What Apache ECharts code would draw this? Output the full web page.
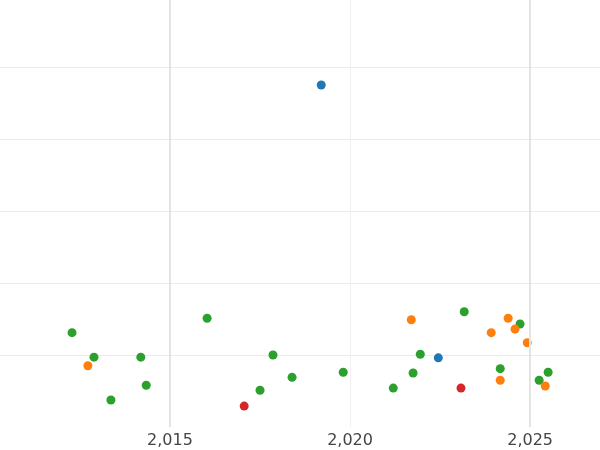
<!DOCTYPE html>
<html><head><meta charset="utf-8">
<script src="https://cdn.jsdelivr.net/npm/echarts@6/dist/echarts.min.js"></script>
<style>html,body{margin:0;padding:0;background:#fff}#c{width:600px;height:450px}</style>
</head><body><div id="c"></div>
<script>
const xTicks = [2015, 2020, 2025];
const green = [[2012.28,1.31],[2012.89,0.97],[2013.36,0.375],[2014.19,0.97],[2014.34,0.58],[2016.03,1.51],[2017.86,1.0],[2017.5,0.51],[2018.39,0.69],[2019.81,0.76],[2021.2,0.54],[2021.75,0.75],[2021.95,1.01],[2023.17,1.6],[2024.17,0.81],[2024.72,1.43],[2025.25,0.65],[2025.5,0.76]];
const orange = [[2012.72,0.85],[2021.7,1.49],[2023.92,1.31],[2024.39,1.51],[2024.58,1.36],[2024.92,1.17],[2024.17,0.65],[2025.42,0.57]];
const blue = [[2019.2,4.75],[2022.45,0.96]];
const red = [[2017.06,0.29],[2023.08,0.54]];
const chart = echarts.init(document.getElementById('c'));
const mk = (data, color, extra) => Object.assign({type:'scatter', data, symbolSize:9, itemStyle:{color, opacity:1}}, extra||{});
chart.setOption({
  animation:false,
  grid:{left:0,right:0,top:0,bottom:23},
  xAxis:{type:'value',min:2010.28,max:2026.94,
    axisLine:{show:false},axisTick:{show:false},splitLine:{show:false},
    axisLabel:{customValues:xTicks,color:'#444',fontSize:16,margin:6,fontFamily:'DejaVu Sans'}},
  yAxis:{type:'value',min:0,max:5.93,interval:1,axisLabel:{show:false},axisLine:{show:false},axisTick:{show:false},
    splitLine:{lineStyle:{color:['rgba(0,0,0,0)','#ebebeb','#ebebeb','#ebebeb','#ebebeb','#ebebeb'],width:1}}},
  series:[
    mk(green,'#2ca02c',{markLine:{silent:true,symbol:'none',label:{show:false},
      data:xTicks.map((v,i)=>({xAxis:v,lineStyle:{color:i===1?'#f0f0f0':'#e4e4e4',width:i===1?1:2,type:'solid'}}))}}),
    mk(orange,'#ff7f0e'),
    mk(blue,'#1f77b4'),
    mk(red,'#d62728')
  ]
});
</script></body></html>
